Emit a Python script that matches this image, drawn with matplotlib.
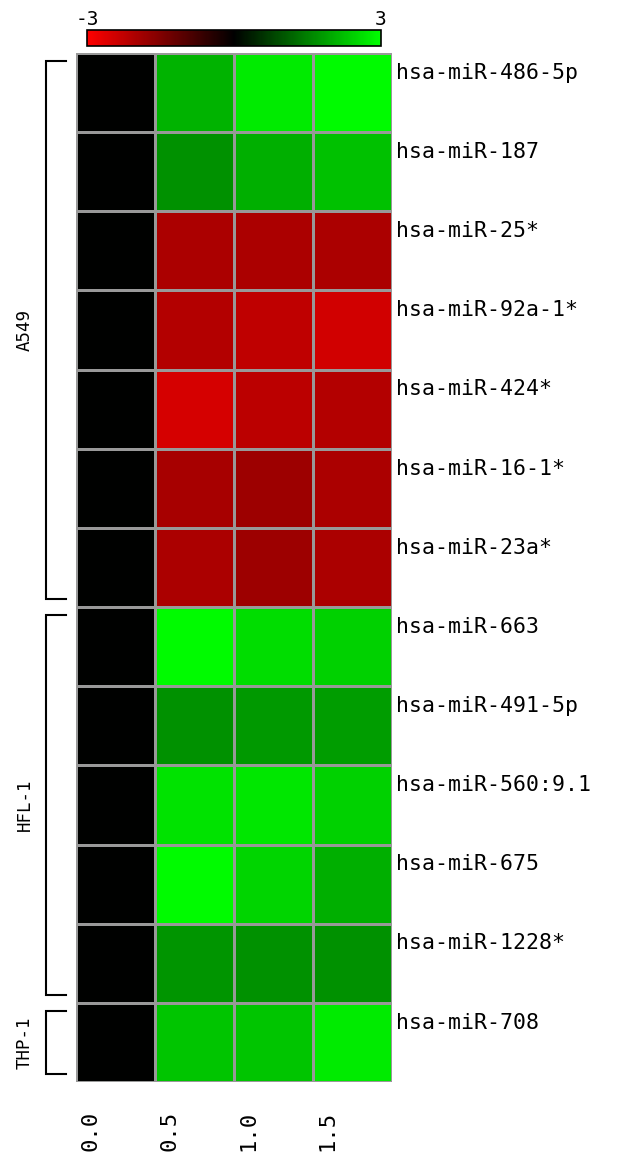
import matplotlib
matplotlib.use("Agg")
import matplotlib.pyplot as plt
import numpy as np
from matplotlib.colors import LinearSegmentedColormap
import matplotlib.transforms as mtransforms

genes = ["hsa-miR-486-5p", "hsa-miR-187", "hsa-miR-25*", "hsa-miR-92a-1*",
         "hsa-miR-424*", "hsa-miR-16-1*", "hsa-miR-23a*", "hsa-miR-663",
         "hsa-miR-491-5p", "hsa-miR-560:9.1", "hsa-miR-675", "hsa-miR-1228*",
         "hsa-miR-708"]
time_labels = ["0.0", "0.5", "1.0", "1.5"]

t00 = [0, 0, 0, 0, 0, 0, 0, 0, 0, 0, 0, 0, 0]
t05 = [2.1, 1.7, -2.0, -2.1, -2.5, -1.95, -2.0, 2.95, 1.7, 2.65, 2.95, 1.75, 2.3]
t10 = [2.75, 2.05, -2.0, -2.25, -2.2, -1.85, -1.85, 2.6, 1.8, 2.7, 2.5, 1.7, 2.3]
t15 = [2.95, 2.25, -2.0, -2.45, -2.1, -2.0, -2.0, 2.45, 1.85, 2.45, 2.05, 1.7, 2.75]

group_names = ["A549", "HFL-1", "THP-1"]
group_start = [0, 7, 12]
group_end = [7, 12, 13]

vmin, vmax = -3, 3

data = np.array([t00, t05, t10, t15]).T

cmap = LinearSegmentedColormap.from_list("rg", [(1, 0, 0), (0, 0, 0), (0, 1, 0)])

W, H = 636, 1155
fig = plt.figure(figsize=(W / 100, H / 100), dpi=100)

mono = "DejaVu Sans Mono"

ax = fig.add_axes([76 / W, 1 - 1082 / H, 316 / W, 1029 / H])
mesh = ax.pcolormesh(np.arange(len(time_labels) + 1), np.arange(len(genes) + 1), data,
                     cmap=cmap, vmin=vmin, vmax=vmax, edgecolors="#999999", linewidth=1.0)
ax.set_xlim(0, len(time_labels))
ax.set_ylim(len(genes), 0)
for s in ax.spines.values():
    s.set_visible(False)
ax.set_yticks([])
ax.set_xticks(np.arange(len(time_labels)) + 0.18)
ax.set_xticklabels(time_labels, rotation=90, fontsize=16, family=mono, va="top")
ax.tick_params(axis="x", length=0, pad=21)

# row labels
tr = mtransforms.blended_transform_factory(ax.transAxes, ax.transData)
for i, g in enumerate(genes):
    ax.text(1.014, i + 0.25, g, transform=tr, ha="left", va="center",
            fontsize=15.5, family=mono, color="black")

# group brackets
xv, xh = (46 - 76) / 316, (66 - 76) / 316
for name, s, e in zip(group_names, group_start, group_end):
    y0, y1 = s + 0.1, e - 0.1
    ax.plot([xh, xv, xv, xh], [y0, y0, y1, y1], color="black", lw=1.5,
            transform=tr, clip_on=False, solid_joinstyle="miter")
    ax.text((25 - 76) / 316, (y0 + y1) / 2, name, transform=tr, rotation=90,
            ha="center", va="center", fontsize=12.5, family=mono)

# colorbar
cax = fig.add_axes([87 / W, 1 - 46 / H, 294 / W, 16 / H])
cb = fig.colorbar(mesh, cax=cax, orientation="horizontal", ticks=[vmin, vmax])
cb.outline.set_linewidth(1.2)
cax.xaxis.set_ticks_position("top")
cax.set_xticklabels([str(vmin), str(vmax)], family=mono)
cax.tick_params(axis="x", length=0, pad=1, labelsize=14)

fig.savefig("out.png", dpi=100)
